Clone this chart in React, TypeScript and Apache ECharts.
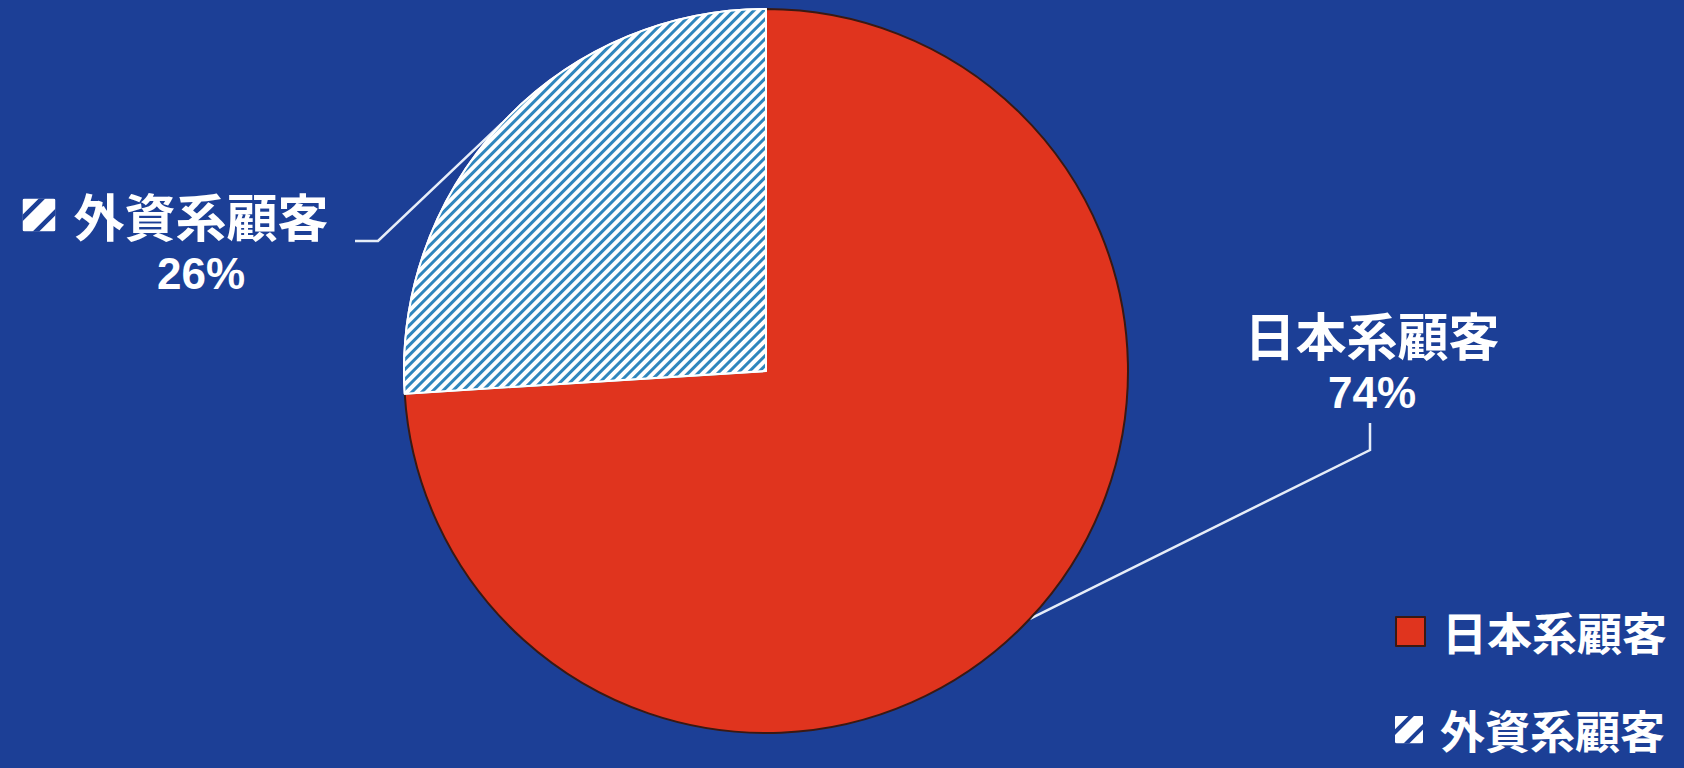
import React, { useEffect, useRef } from "react";
import * as echarts from "echarts";

const categories = ["日本系顧客", "外資系顧客"];
const values = [74, 26];

const BG = "#1c3f96";
const RED = "#e0341e";
const HATCH = "#2f86bd";

const iconSvg =
  "<svg xmlns='http://www.w3.org/2000/svg' width='32' height='32' viewBox='0 0 32 32'>" +
  "<rect x='0' y='0' width='32' height='32' rx='2' fill='#ffffff'/>" +
  "<line x1='-2' y1='21' x2='21' y2='-2' stroke='" + BG + "' stroke-width='4.5'/>" +
  "<line x1='11' y1='34' x2='34' y2='11' stroke='" + BG + "' stroke-width='4.5'/>" +
  "</svg>";
const iconUrl = "data:image/svg+xml;charset=utf-8," + encodeURIComponent(iconSvg);

const labelSpots = [
  { x: 1372, y: 362, bend: [1370, 450], end: [1370, 423] },
  { x: 201, y: 243, bend: [378, 241], end: [355, 241] },
];

export default function App() {
  const ref = useRef<HTMLDivElement>(null);
  useEffect(() => {
    document.body.style.margin = "0";
    const chart = echarts.init(ref.current!, null, { renderer: "svg" });
    const cjk = "'Noto Sans CJK JP', 'Noto Sans', sans-serif";
    const num = "'Liberation Sans Narrow', 'Liberation Sans', Roboto, sans-serif";
    const legendText = {
      color: "#ffffff",
      fontSize: 45,
      fontWeight: "bold",
      fontFamily: cjk,
      lineHeight: 44,
      padding: [0, 0, 0, 12],
    };
    chart.setOption({
      animation: false,
      backgroundColor: BG,
      legend: [
        {
          orient: "vertical",
          left: 1390,
          top: 604,
          itemWidth: 29,
          itemHeight: 29,
          textStyle: legendText,
          data: [
            { name: categories[0], icon: "rect", itemStyle: { borderColor: "#3a1912", borderWidth: 2 } },
          ],
        },
        {
          orient: "vertical",
          left: 1390,
          top: 702,
          itemWidth: 28,
          itemHeight: 28,
          textStyle: legendText,
          data: [{ name: categories[1], icon: "image://" + iconUrl }],
        },
      ],
      series: [
        {
          type: "pie",
          center: [766, 371],
          radius: 362,
          startAngle: 90,
          clockwise: true,
          label: {
            show: true,
            position: "outside",
            color: "#ffffff",
            fontFamily: cjk,
            fontWeight: "bold",
            formatter: (p: any) => {
              const pct = Math.round(p.percent) + "%";
              if (p.dataIndex === 1) {
                return "{icon|}{g|}{n|" + p.name + "}{sp|}\n{p|" + pct + "}";
              }
              return "{n|" + p.name + "}\n{p|" + pct + "}";
            },
            rich: {
              n: { fontSize: 51, fontFamily: cjk, fontWeight: "bold", color: "#fff", lineHeight: 60 },
              p: { fontSize: 44, fontFamily: num, fontWeight: "bold", color: "#fff", lineHeight: 56 },
              icon: { width: 33, height: 33, lineHeight: 60, backgroundColor: { image: iconUrl } },
              g: { width: 18, lineHeight: 60 },
              sp: { width: 51, lineHeight: 60 },
            },
          },
          labelLine: {
            show: true,
            lineStyle: { color: "#e6edf8", width: 2.5 },
          },
          labelLayout: (params: any) => {
            const s = labelSpots[params.dataIndex];
            const start = params.labelLinePoints ? params.labelLinePoints[0] : s.bend;
            return {
              x: s.x,
              y: s.y,
              align: "center",
              verticalAlign: "middle",
              labelLinePoints: [start, s.bend, s.end],
            };
          },
          data: [
            {
              name: categories[0],
              value: values[0],
              itemStyle: { color: RED, borderColor: "#3a1912", borderWidth: 2 },
            },
            {
              name: categories[1],
              value: values[1],
              itemStyle: {
                color: "#ffffff",
                borderColor: "#ffffff",
                borderWidth: 2,
                decal: {
                  symbol: "rect",
                  symbolSize: 1,
                  color: HATCH,
                  dashArrayX: [1, 0],
                  dashArrayY: [2.8, 3.6],
                  rotation: -Math.PI / 4,
                },
              },
            },
          ],
        },
      ],
    });
    return () => chart.dispose();
  }, []);
  return <div ref={ref} style={{ width: 1684, height: 768 }} />;
}
